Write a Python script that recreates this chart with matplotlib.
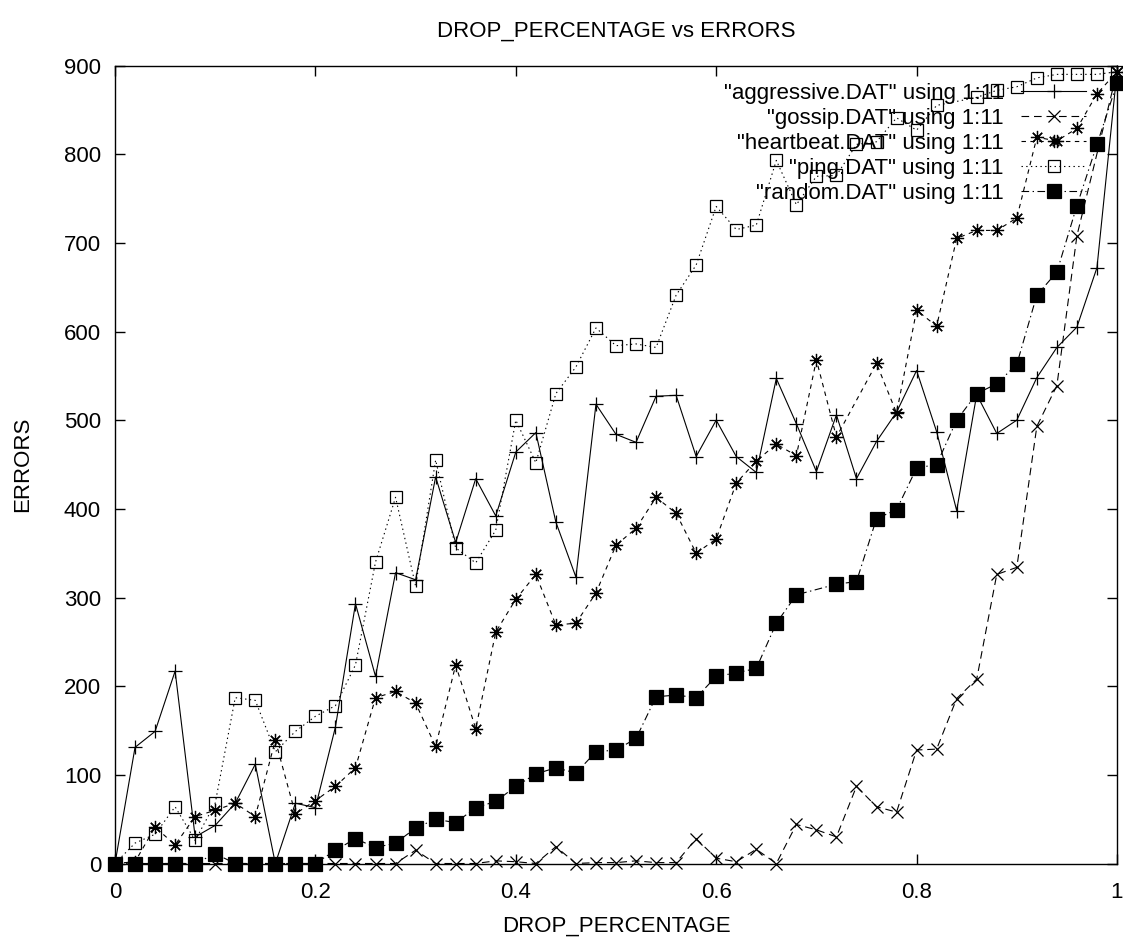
import matplotlib
matplotlib.use("Agg")
import matplotlib.pyplot as plt
from matplotlib import font_manager
import numpy as np

# font: gnuplot output looks like a narrow Helvetica
names = set(f.name for f in font_manager.fontManager.ttflist)
if 'Liberation Sans Narrow' in names:
    plt.rcParams['font.family'] = ['Liberation Sans Narrow', 'DejaVu Sans']
    fs = 19
else:
    plt.rcParams['font.family'] = ['Liberation Sans', 'DejaVu Sans']
    fs = 16
plt.rcParams['lines.scale_dashes'] = False

#======================================================
drop_pct = [0.00, 0.02, 0.04, 0.06, 0.08, 0.10, 0.12, 0.14, 0.16, 0.18,
            0.20, 0.22, 0.24, 0.26, 0.28, 0.30, 0.32, 0.34, 0.36, 0.38,
            0.40, 0.42, 0.44, 0.46, 0.48, 0.50, 0.52, 0.54, 0.56, 0.58,
            0.60, 0.62, 0.64, 0.66, 0.68, 0.70, 0.72, 0.74, 0.76, 0.78,
            0.80, 0.82, 0.84, 0.86, 0.88, 0.90, 0.92, 0.94, 0.96, 0.98, 1.00]

# None = no point in the .DAT file
aggressive = [0, 131, 149, 217, 30, 43, 68, 112, 0, 68,
              63, 154, 293, 211, 328, 320, 436, 362, 434, 392,
              464, 486, 385, 323, 518, 484, 475, 527, 528, 459,
              500, 459, 441, 547, 496, 442, 506, 434, 476, 509,
              556, 487, 398, 529, 485, 500, 548, 582, 605, 672, 893]
gossip = [0, 0, 0, 0, 0, 0, 0, 0, 0, 0,
          0, 0, 0, 0, 0, 15, 0, 0, 0, 3,
          2, 0, 19, 0, 1, 1, 3, 1, 1, 28,
          6, 2, 16, 0, 44, 38, 30, 87, 64, 58,
          128, 129, 186, 208, 326, 334, 493, 539, 708, None, 893]
heartbeat = [0, 2, 41, 21, 53, 60, 68, 53, 139, 56,
             71, 87, 108, 187, 194, 181, 132, 224, 152, 261,
             298, 326, 269, 271, 305, 359, 378, 413, 395, 350,
             366, 429, 454, 473, 460, 568, 481, None, 564, 508,
             624, 606, 705, 714, 714, 728, 819, 815, 829, 868, 893]
ping = [0, 23, 33, 64, 26, 68, 187, 184, 126, 149,
        166, 178, 224, 340, 413, 313, 455, 356, 339, 376,
        500, 452, 530, 560, 604, 584, 586, 582, 641, 675,
        741, 715, 720, 793, 743, 775, 776, 811, 814, 841,
        827, 855, None, 864, 872, 876, 886, 890, 890, 890, 893]
random_ = [0, 0, 0, 0, 0, 11, 0, 0, 0, 0,
           0, 15, 28, 18, 23, 40, 50, 46, 63, 70,
           87, 101, 108, 102, 126, 128, 141, 188, 190, 187,
           211, 215, 220, 271, 303, None, 315, 318, 389, 399,
           446, 450, 500, 530, 541, 563, 641, 667, 742, 811, 880]

series = [('"aggressive.DAT" using 1:11', aggressive, '-', '+', 'k', 9.5),
          ('"gossip.DAT" using 1:11', gossip, (0, (5.5, 3.5)), 'x', 'k', 8.5),
          ('"heartbeat.DAT" using 1:11', heartbeat, (0, (3.2, 3.2)), (8, 2, 0), 'k', 9.5),
          ('"ping.DAT" using 1:11', ping, (0, (1.0, 2.4)), 's', 'none', 8.5),
          ('"random.DAT" using 1:11', random_, (0, (5.5, 2.5, 1.0, 2.5)), 's', 'k', 9.5)]

#======================================================
f = plt.figure(figsize=(11.23, 9.43), dpi=100)
ax = f.add_axes([115/1123, 1-863.5/943, 1002/1123, 798/943])

for label, vals, ls, mk, mfc, ms in series:
    xs = [x for x, v in zip(drop_pct, vals) if v is not None]
    ys = [v for v in vals if v is not None]
    ax.plot(xs, ys, color='k', lw=0.8, linestyle=ls, marker=mk,
            markersize=ms, markerfacecolor=mfc, markeredgecolor='k',
            markeredgewidth=0.9, clip_on=False, label=label)

ax.set_xlim(0, 1)
ax.set_ylim(0, 900)
ax.set_xticks([0, 0.2, 0.4, 0.6, 0.8, 1.0])
ax.set_xticklabels(['0', '0.2', '0.4', '0.6', '0.8', '1'])
ax.set_yticks(np.arange(0, 901, 100))
ax.tick_params(direction='in', length=7, width=1, top=True, right=True,
               labelsize=fs)
ax.tick_params(axis='x', pad=13.5)
ax.tick_params(axis='y', pad=10)
for s in ax.spines.values():
    s.set_linewidth(1.0)

ax.set_xlabel('DROP_PERCENTAGE', fontsize=fs, labelpad=9)
ax.set_ylabel('ERRORS', fontsize=fs, labelpad=22)
ax.set_title('DROP_PERCENTAGE vs ERRORS', fontsize=fs, pad=21)

ax.legend(loc='upper right', bbox_to_anchor=(0.969, 0.978), frameon=False,
          markerfirst=False, numpoints=1, fontsize=fs, borderpad=0,
          borderaxespad=0, handlelength=2.9, handletextpad=0.8,
          labelspacing=0.18)

f.savefig('out.png', dpi=100)
